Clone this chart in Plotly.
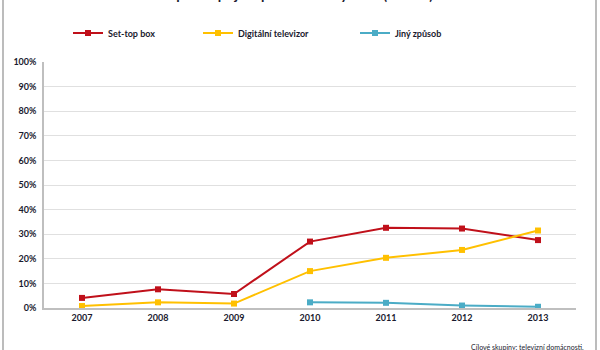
import plotly.graph_objects as go

years = ["2007", "2008", "2009", "2010", "2011", "2012", "2013"]
set_top_box = [4.1, 7.6, 5.7, 27.0, 32.6, 32.3, 27.6]
digital_tv = [0.8, 2.3, 1.8, 15.0, 20.4, 23.6, 31.5]
other_years = ["2010", "2011", "2012", "2013"]
other = [2.3, 2.1, 1.0, 0.5]
y_ticks = [0, 10, 20, 30, 40, 50, 60, 70, 80, 90, 100]
y_tick_labels = [f"{v}%" for v in y_ticks]

FONT = "Lato"
TXT = "#1a1a2e"
PW, PH, L, T = 532, 246, 44, 62

fig = go.Figure()
fig.add_trace(go.Scatter(x=years, y=set_top_box, name="Set-top box", mode="lines+markers",
                         line=dict(color="#C0101A", width=2),
                         marker=dict(symbol="square", size=6, color="#C0101A"),
                         legend="legend"))
fig.add_trace(go.Scatter(x=years, y=digital_tv, name="Digitální televizor", mode="lines+markers",
                         line=dict(color="#FFC000", width=2),
                         marker=dict(symbol="square", size=6, color="#FFC000"),
                         legend="legend2"))
fig.add_trace(go.Scatter(x=other_years, y=other, name="Jiný způsob", mode="lines+markers",
                         line=dict(color="#4BACC6", width=2),
                         marker=dict(symbol="square", size=6, color="#4BACC6"),
                         legend="legend3"))

leg_common = dict(orientation="h", yanchor="middle", y=1.0 + (T - 33) / PH,
                  xanchor="left", bgcolor="rgba(0,0,0,0)", itemwidth=30,
                  font=dict(family=FONT, size=9, color=TXT, weight="bold"),
                  xref="paper", yref="paper")

fig.update_layout(
    width=600, height=350,
    margin=dict(l=L, r=24, t=T, b=42, autoexpand=False),
    paper_bgcolor="white", plot_bgcolor="white",
    showlegend=True,
    legend=dict(leg_common, x=(68 - L) / PW),
    legend2=dict(leg_common, x=(198 - L) / PW),
    legend3=dict(leg_common, x=(355 - L) / PW),
    xaxis=dict(type="category", showgrid=False, showline=True, linecolor="#bfbfbf", linewidth=1.5,
               ticks="", tickfont=dict(family=FONT, size=9, color=TXT, weight="bold"),
               range=[-0.5, 6.5]),
    yaxis=dict(range=[0, 100], tickvals=y_ticks, ticktext=y_tick_labels,
               showgrid=True, gridcolor="#e0e0e0", gridwidth=1.3,
               showline=True, linecolor="#bfbfbf", linewidth=1.5, zeroline=False,
               ticks="", ticklabelstandoff=4,
               tickfont=dict(family=FONT, size=9, color=TXT, weight="bold")),
    annotations=[
        dict(text="<b>Způsob příjmu pozemního vysílání (DVB-T)</b>", xref="paper", yref="paper",
             x=(300 - L) / PW, y=1 + (T - 5) / PH, xanchor="center", yanchor="bottom",
             showarrow=False, font=dict(family=FONT, size=14, color=TXT)),
        dict(text="Cílové skupiny: televizní domácnosti.", xref="paper", yref="paper",
             x=(586 - L) / PW, y=-(347 - 308) / PH, xanchor="right", yanchor="middle",
             showarrow=False, font=dict(family=FONT, size=7, color=TXT)),
    ],
    shapes=[
        dict(type="line", xref="paper", yref="paper", x0=-(L - 3) / PW, x1=-(L - 3) / PW,
             y0=-42 / PH, y1=1 + T / PH, line=dict(color="#a6a6a6", width=1.5)),
        dict(type="line", xref="paper", yref="paper", x0=1 + (596 - 576) / PW, x1=1 + (596 - 576) / PW,
             y0=-42 / PH, y1=1 + T / PH, line=dict(color="#a6a6a6", width=1.5)),
    ],
)

fig.write_html("out.html")
